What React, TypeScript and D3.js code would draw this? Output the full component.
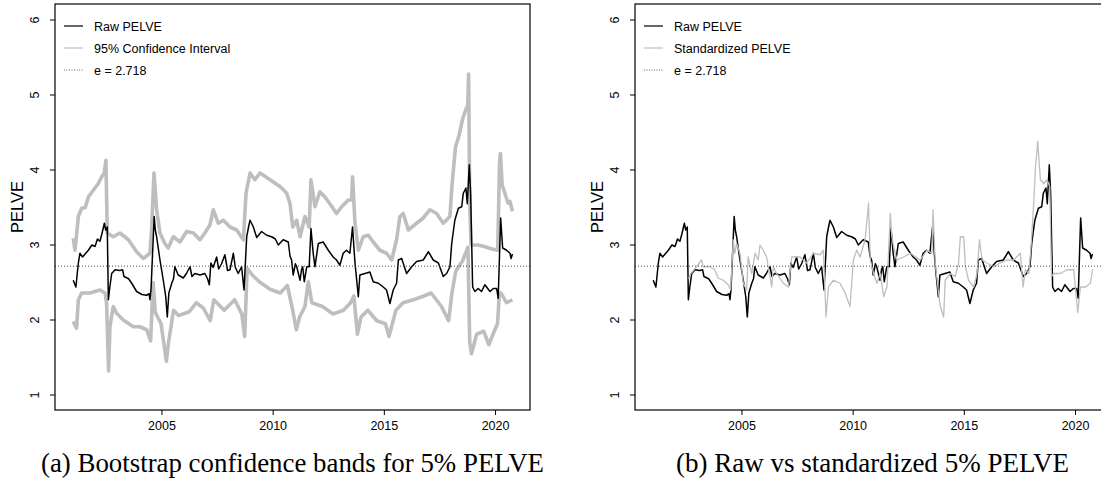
import React from 'react';
import * as d3 from 'd3';

const W = 1101;
const H = 481;

const xTicks = [2005, 2010, 2015, 2020];
const yTicks = [1, 2, 3, 4, 5, 6];
const eValue = 2.718;

const rawT = [2001.01,2001.13,2001.24,2001.31,2001.43,2001.69,2001.85,2001.99,2002.10,2002.21,2002.30,2002.41,2002.47,2002.54,2002.59,2002.66,2002.74,2002.89,2003.10,2003.23,2003.29,2003.50,2003.64,2003.86,2004.10,2004.31,2004.42,2004.46,2004.51,2004.65,2004.70,2004.76,2004.91,2005.06,2005.17,2005.24,2005.31,2005.44,2005.52,2005.58,2005.73,2005.96,2006.10,2006.26,2006.35,2006.48,2006.71,2006.93,2007.05,2007.13,2007.20,2007.30,2007.46,2007.55,2007.68,2007.83,2007.95,2008.06,2008.21,2008.30,2008.43,2008.58,2008.69,2008.75,2008.81,2008.90,2008.96,2009.11,2009.26,2009.48,2009.71,2009.93,2010.10,2010.23,2010.45,2010.68,2010.76,2010.83,2010.90,2011.00,2011.06,2011.21,2011.28,2011.33,2011.40,2011.51,2011.62,2011.70,2011.80,2011.88,2012.03,2012.25,2012.48,2012.70,2012.85,2013.00,2013.15,2013.30,2013.45,2013.57,2013.68,2013.83,2013.90,2014.13,2014.35,2014.50,2014.73,2014.95,2015.10,2015.25,2015.40,2015.55,2015.63,2015.78,2016.00,2016.23,2016.45,2016.75,2016.98,2017.20,2017.43,2017.65,2017.80,2017.95,2018.03,2018.17,2018.33,2018.48,2018.55,2018.67,2018.73,2018.82,2018.88,2018.97,2019.07,2019.22,2019.37,2019.52,2019.75,2019.90,2020.05,2020.12,2020.23,2020.32,2020.50,2020.65,2020.70,2020.76];
const rawV = [2.53,2.44,2.76,2.89,2.84,2.93,3.00,2.98,3.08,3.05,3.15,3.29,3.20,3.24,2.27,2.45,2.62,2.67,2.66,2.67,2.58,2.55,2.49,2.38,2.34,2.33,2.35,2.27,2.42,3.38,3.20,3.11,2.80,2.53,2.31,2.04,2.36,2.49,2.55,2.71,2.60,2.56,2.62,2.71,2.58,2.62,2.60,2.62,2.55,2.47,2.76,2.70,2.84,2.68,2.75,2.87,2.66,2.67,2.89,2.70,2.62,2.71,2.40,2.75,3.11,3.25,3.33,3.24,3.10,3.18,3.13,3.11,3.08,3.00,3.07,3.04,2.85,2.80,2.60,2.75,2.71,2.53,2.68,2.71,2.51,2.71,2.71,3.22,2.89,2.71,3.02,3.04,2.93,2.84,2.80,2.73,2.89,2.93,2.89,3.24,2.76,2.31,2.60,2.62,2.64,2.51,2.49,2.44,2.40,2.22,2.40,2.49,2.80,2.82,2.62,2.71,2.78,2.80,2.91,2.80,2.76,2.58,2.62,2.71,3.02,3.33,3.49,3.51,3.69,3.76,3.55,4.07,3.69,2.44,2.38,2.42,2.38,2.47,2.38,2.42,2.42,2.29,3.36,2.96,2.93,2.89,2.82,2.88];

const upperT = [2001.01,2001.09,2001.24,2001.39,2001.55,2001.69,2001.91,2002.14,2002.29,2002.40,2002.48,2002.54,2002.81,2003.11,2003.49,2003.86,2004.16,2004.46,2004.54,2004.64,2004.76,2004.91,2005.13,2005.28,2005.51,2005.81,2006.11,2006.41,2006.71,2006.93,2007.16,2007.31,2007.53,2007.76,2008.06,2008.36,2008.66,2008.78,2008.96,2009.18,2009.41,2009.86,2010.31,2010.61,2010.76,2010.88,2011.06,2011.21,2011.43,2011.62,2011.70,2011.88,2012.10,2012.33,2012.55,2012.85,2013.08,2013.38,2013.53,2013.57,2013.68,2013.83,2014.05,2014.28,2014.50,2014.80,2015.10,2015.33,2015.55,2015.70,2015.85,2016.08,2016.45,2016.75,2017.05,2017.35,2017.65,2017.95,2018.04,2018.20,2018.35,2018.52,2018.68,2018.75,2018.79,2018.84,2018.90,2019.20,2019.50,2019.80,2020.10,2020.18,2020.22,2020.30,2020.41,2020.56,2020.65,2020.76];
const upperV = [3.09,2.93,3.38,3.49,3.50,3.64,3.73,3.82,3.91,3.95,4.13,3.16,3.11,3.16,3.07,2.91,2.82,2.89,3.24,3.96,3.47,3.16,3.02,2.96,3.11,3.04,3.18,3.16,3.07,3.16,3.27,3.47,3.29,3.33,3.24,3.20,3.07,3.69,3.96,3.87,3.96,3.87,3.78,3.69,3.55,3.24,3.33,3.11,3.38,3.24,3.87,3.51,3.71,3.64,3.55,3.42,3.51,3.60,3.60,3.91,3.29,2.93,3.11,3.13,3.04,2.93,2.89,2.80,3.07,3.38,3.42,3.20,3.29,3.36,3.47,3.42,3.29,3.38,3.79,4.31,4.45,4.68,4.82,4.85,5.28,3.56,3.00,3.00,2.98,2.95,2.93,4.10,4.22,3.80,3.70,3.56,3.58,3.45];

const lowerT = [2001.01,2001.16,2001.24,2001.39,2001.76,2002.21,2002.44,2002.51,2002.60,2002.66,2002.81,2002.96,2003.26,2003.71,2004.01,2004.31,2004.49,2004.60,2004.70,2004.96,2005.20,2005.28,2005.52,2005.75,2006.23,2006.54,2006.86,2007.17,2007.33,2007.80,2008.27,2008.59,2008.72,2008.83,2009.06,2009.38,2009.86,2010.32,2010.64,2010.88,2011.04,2011.19,2011.43,2011.58,2011.74,2012.22,2012.69,2013.16,2013.48,2013.63,2013.79,2013.95,2014.26,2014.66,2015.05,2015.21,2015.52,2015.84,2016.31,2016.78,2017.10,2017.57,2017.89,2018.04,2018.21,2018.52,2018.76,2018.84,2018.92,2019.15,2019.47,2019.70,2019.94,2020.09,2020.17,2020.25,2020.49,2020.76];
const lowerV = [1.98,1.89,2.27,2.36,2.36,2.40,2.36,2.22,1.32,1.91,2.18,2.09,2.00,1.91,1.91,1.87,1.72,2.50,2.10,1.95,1.45,1.67,2.13,2.06,2.11,2.23,2.16,1.99,2.27,2.13,2.27,2.08,1.78,2.69,2.60,2.51,2.41,2.36,2.46,2.13,1.87,2.04,2.18,2.51,2.23,2.18,2.08,2.13,2.23,2.32,1.81,2.04,2.13,1.99,1.95,1.78,2.13,2.23,2.27,2.32,2.36,2.18,1.99,2.36,2.65,2.79,2.97,1.70,1.55,1.81,1.85,1.67,1.85,1.95,2.35,2.36,2.23,2.27];

const stdT = [2002.60,2002.70,2002.96,2003.18,2003.26,2003.56,2003.78,2003.93,2004.16,2004.38,2004.49,2004.61,2004.68,2004.76,2004.91,2005.06,2005.21,2005.28,2005.44,2005.59,2005.73,2005.81,2005.96,2006.11,2006.18,2006.34,2006.41,2006.56,2006.86,2007.09,2007.24,2007.61,2007.91,2008.21,2008.51,2008.66,2008.78,2008.89,2009.11,2009.41,2009.64,2009.86,2010.01,2010.16,2010.31,2010.54,2010.69,2010.77,2010.92,2011.07,2011.22,2011.37,2011.52,2011.67,2011.74,2011.82,2011.97,2012.27,2012.57,2013.02,2013.32,2013.54,2013.59,2013.69,2013.84,2013.92,2014.07,2014.14,2014.37,2014.59,2014.74,2014.82,2014.97,2015.05,2015.19,2015.42,2015.57,2015.68,2015.80,2016.02,2016.32,2016.62,2016.92,2017.22,2017.52,2017.64,2017.75,2017.90,2018.00,2018.12,2018.20,2018.30,2018.42,2018.57,2018.72,2018.84,2018.92,2019.02,2019.32,2019.62,2019.92,2020.10,2020.22,2020.45,2020.67,2020.77];
const stdV = [2.55,2.62,2.71,2.80,2.71,2.71,2.67,2.56,2.53,2.47,2.40,3.07,2.89,3.02,2.89,2.49,2.40,2.84,2.62,2.89,2.80,3.00,2.93,2.84,2.71,2.44,2.71,2.62,2.49,2.44,2.84,2.84,2.76,2.89,2.87,2.93,2.04,2.44,2.53,2.49,2.36,2.18,2.80,2.93,2.84,3.07,3.56,2.80,2.62,2.49,2.62,2.31,2.44,3.42,3.11,2.98,2.80,2.84,2.89,2.80,2.93,2.89,3.47,2.76,2.36,2.18,2.04,2.53,2.62,2.58,2.76,3.11,3.11,2.71,2.53,2.44,2.62,3.07,2.80,2.76,2.71,2.76,2.80,2.80,2.89,2.44,2.67,2.62,2.98,3.56,4.04,4.38,3.87,3.82,3.87,3.78,2.58,2.62,2.62,2.67,2.67,2.10,2.44,2.44,2.49,2.68];

const legendA = ['Raw PELVE', '95% Confidence Interval', 'e = 2.718'];
const legendB = ['Raw PELVE', 'Standardized PELVE', 'e = 2.718'];
const captionA = '(a) Bootstrap confidence bands for 5% PELVE';
const captionB = '(b) Raw vs standardized 5% PELVE';

const GRAY = '#bebebe';
const SANS = '"Liberation Sans", Arial, Helvetica, sans-serif';
const SERIF = '"Liberation Serif", "Times New Roman", serif';

const PW = 475;
const TOP = 4;
const BOTTOM = 410;

type Series = { t: number[]; v: number[]; color: string; width: number };

function Panel(props: { left: number; id: string; series: Series[]; legend: string[]; legendColors: string[]; caption: string; captionLen: number }) {
  const { left, id, series, legend, legendColors, caption, captionLen } = props;
  const x = d3.scaleLinear().domain([2000.19, 2021.55]).range([left, left + PW]);
  const y = d3.scaleLinear().domain([0.8, 6.2]).range([BOTTOM, TOP + 1]);
  const line = (t: number[], v: number[]) =>
    d3.line<number>().x((_, i) => x(t[i])).y((d) => y(d))(v) || '';
  const cx = left + PW / 2;
  return (
    <g>
      <defs>
        <clipPath id={id}>
          <rect x={left} y={TOP} width={PW} height={BOTTOM - TOP} />
        </clipPath>
      </defs>
      <g clipPath={`url(#${id})`}>
        {series.map((s, i) => (
          <path key={i} d={line(s.t, s.v)} fill="none" stroke={s.color} strokeWidth={s.width} strokeLinejoin="round" />
        ))}
        <line x1={left} x2={left + PW} y1={y(eValue)} y2={y(eValue)} stroke="#333" strokeWidth={0.9} strokeDasharray="1 2" />
      </g>
      <rect x={left} y={TOP} width={PW} height={BOTTOM - TOP} fill="none" stroke="#000" strokeWidth={1.2} />
      {xTicks.map((t) => (
        <g key={t}>
          <line x1={x(t)} x2={x(t)} y1={BOTTOM} y2={BOTTOM + 5} stroke="#000" />
          <text x={x(t)} y={430} textAnchor="middle" fontFamily={SANS} fontSize={12.5}>{t}</text>
        </g>
      ))}
      {yTicks.map((t) => (
        <g key={t}>
          <line x1={left - 5} x2={left} y1={y(t)} y2={y(t)} stroke="#000" />
          <text transform={`translate(${left - 16},${y(t)}) rotate(-90)`} textAnchor="middle" fontFamily={SANS} fontSize={12.5}>{t}</text>
        </g>
      ))}
      <text transform={`translate(${left - 32},${(TOP + BOTTOM) / 2}) rotate(-90)`} textAnchor="middle" fontFamily={SANS} fontSize={16.5}>PELVE</text>
      {legend.map((lab, i) => {
        const ly = 26 + i * 22;
        return (
          <g key={lab}>
            <line x1={left + 9} x2={left + 28} y1={ly} y2={ly} stroke={legendColors[i]} strokeWidth={i === 2 ? 0.9 : 1.2} strokeDasharray={i === 2 ? '1 1.5' : undefined} />
            <text x={left + 39} y={ly + 4.5} fontFamily={SANS} fontSize={12.5}>{lab}</text>
          </g>
        );
      })}
      <text x={cx} y={472} textAnchor="middle" fontFamily={SERIF} fontSize={26.5} textLength={captionLen} lengthAdjust="spacingAndGlyphs">{caption}</text>
    </g>
  );
}

export default function App() {
  const seriesA: Series[] = [
    { t: upperT, v: upperV, color: GRAY, width: 3.6 },
    { t: lowerT, v: lowerV, color: GRAY, width: 3.6 },
    { t: rawT, v: rawV, color: '#000', width: 1.5 },
  ];
  const seriesB: Series[] = [
    { t: rawT, v: rawV, color: '#000', width: 1.5 },
    { t: stdT, v: stdV, color: GRAY, width: 1.3 },
  ];
  return (
    <svg width={W} height={H} style={{ position: 'absolute', left: 0, top: 0, background: '#fff' }}>
      <rect x={0} y={0} width={W} height={H} fill="#fff" />
      <Panel left={55} id="clipA" series={seriesA} legend={legendA} legendColors={['#000', GRAY, '#555']} caption={captionA} captionLen={503} />
      <Panel left={635} id="clipB" series={seriesB} legend={legendB} legendColors={['#000', GRAY, '#555']} caption={captionB} captionLen={393} />
    </svg>
  );
}
